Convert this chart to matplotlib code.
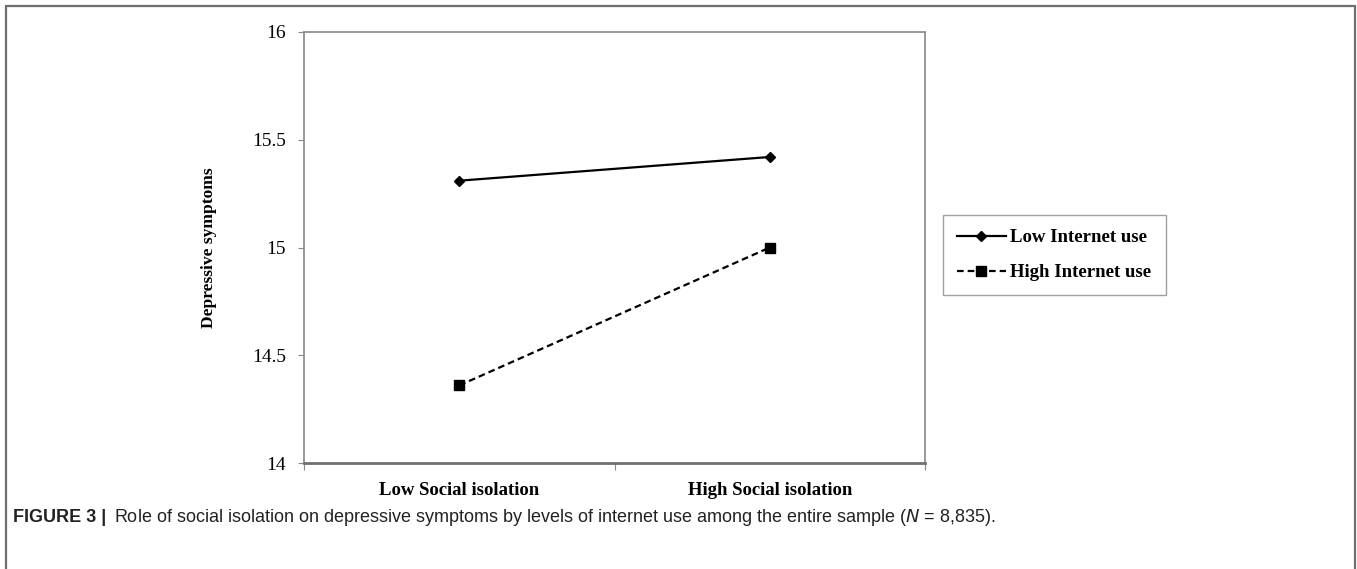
import matplotlib
matplotlib.use("Agg")
import matplotlib.pyplot as plt
from matplotlib.patches import Rectangle

categories = ["Low Social isolation", "High Social isolation"]
low_internet = [15.31, 15.42]
high_internet = [14.36, 15.0]
series_names = ["Low Internet use", "High Internet use"]
yticks = [14, 14.5, 15, 15.5, 16]
ytick_labels = ["14", "14.5", "15", "15.5", "16"]

W, H = 1357, 569
fig = plt.figure(figsize=(W / 100, H / 100), dpi=100)
fig.patch.set_facecolor("white")

serif = ["Liberation Serif", "DejaVu Serif"]

# outer frame
fig.add_artist(Rectangle((6 / W, -0.05), (1355 - 6) / W, 1.05 - 6 / H,
                         transform=fig.transFigure, fill=False,
                         edgecolor="#6e6e6e", linewidth=1.6))

ax = fig.add_axes([304 / W, 1 - 463 / H, (925 - 304) / W, (463 - 32) / H])
xpos = [0.5, 1.5]
ax.plot(xpos, low_internet, color="black", linestyle="-", linewidth=1.6,
        marker="D", markersize=5.5, label=series_names[0])
ax.plot(xpos, high_internet, color="black", linestyle=(0, (3, 1.8)), linewidth=1.6,
        marker="s", markersize=6.5, label=series_names[1])

ax.set_xlim(0, 2)
ax.set_ylim(14, 16)
ax.set_yticks(yticks)
ax.set_yticklabels(ytick_labels, fontfamily=serif, fontsize=14)
ax.set_xticks([0, 1, 2])
ax.set_xticklabels([])
ax.set_xticks(xpos, minor=True)
ax.set_xticklabels(categories, minor=True, fontfamily=serif, fontsize=13.5,
                   fontweight="bold")
ax.tick_params(axis="x", which="minor", length=0, pad=14)
ax.tick_params(axis="x", which="major", length=5, direction="out", color="#888888")
ax.tick_params(axis="y", length=4, direction="out", color="#888888", pad=9)
for s in ["top", "right", "left"]:
    ax.spines[s].set_color("#888888")
    ax.spines[s].set_linewidth(1.2)
ax.spines["bottom"].set_color("#707070")
ax.spines["bottom"].set_linewidth(2.0)

ax.set_ylabel("Depressive symptoms", fontfamily=serif, fontsize=12.6,
              fontweight="bold", labelpad=25)

leg = fig.legend(loc="upper left", bbox_to_anchor=(943 / W, 1 - 215 / H),
                 prop={"family": serif, "size": 13.5, "weight": "bold"},
                 frameon=True, fancybox=False, edgecolor="#888888",
                 handlelength=2.6, handletextpad=0.25, labelspacing=0.95,
                 borderpad=0.75, borderaxespad=0)
leg.get_frame().set_linewidth(1.0)

# caption
fig.text(13 / W, 1 - 517 / H, "FIGURE 3 |", fontfamily="Liberation Sans",
         fontweight="bold", fontsize=13, va="center", ha="left", color="#222222")
fig.text(114 / W, 1 - 517 / H,
         "Role of social isolation on depressive symptoms by levels of internet use among the entire sample ($\\it{N}$ = 8,835).",
         fontfamily="Liberation Sans", fontsize=13, va="center", ha="left",
         color="#222222")

fig.savefig("out.png", dpi=100, facecolor="white")
